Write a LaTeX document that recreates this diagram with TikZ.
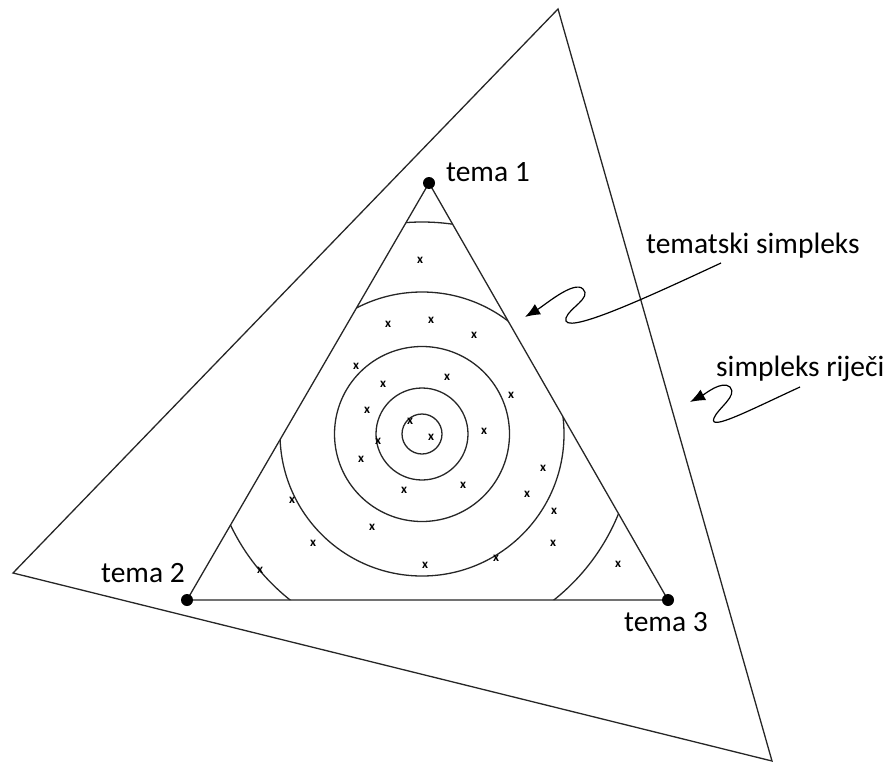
\documentclass[tikz,border=0pt]{standalone}
\usepackage{fontspec}
\setmainfont{Carlito}
\usetikzlibrary{arrows.meta}

\begin{document}
\begin{tikzpicture}[
    x=1pt, y=-1pt,
    edge/.style={line width=1.3pt, black!85},
    vertex/.style={circle, fill=black, minimum size=12pt, inner sep=0pt},
    tag/.style={font=\fontsize{29.5}{29.5}\selectfont, inner sep=0pt, anchor=base west},
    xmark/.style={font=\fontsize{13}{13}\selectfont\bfseries, inner sep=0pt},
    pointer/.style={-{Latex[length=15pt, width=12pt]}, line width=1.2pt}
]
    \useasboundingbox (0,0) rectangle (890,762);

    % --- Simpleks rijeci ---
    \coordinate (o1) at (558,9);
    \coordinate (o2) at (13,573);
    \coordinate (o3) at (772,761);
    \draw[edge] (o1) -- (o2) -- (o3) -- cycle;

    % --- Tematski simpleks ---
    \coordinate (v1) at (429,183);
    \coordinate (v2) at (187,600);
    \coordinate (v3) at (668,600);
    \draw[edge] (v1) -- (v2) -- (v3) -- cycle;

    % Circles
    \coordinate (c) at (422,434);
    \draw[edge] (c) circle[radius=20pt];
    \draw[edge] (c) circle[radius=46pt];
    \draw[edge] (c) circle[radius=87.5pt];
    \begin{scope}
        \clip (v1) -- (v2) -- (v3) -- cycle;
        \draw[edge] (c) circle[radius=142pt];
        \draw[edge] (c) circle[radius=212pt];
    \end{scope}

    % Vertices
    \node[vertex] (t1) at (v1) {};
    \node[vertex] (t2) at (v2) {};
    \node[vertex] (t3) at (v3) {};
    \node[tag] (l1) at (446,181) {tema 1};
    \node[tag] (l2) at (101,582) {tema 2};
    \node[tag] (l3) at (624,631) {tema 3};

    % Points
    \foreach \p [count=\i] in {(420,260), (388,324), (431,320), (474,335),
        (356,366), (383,384), (447,377), (511,395), (367,410), (410,421),
        (431,437), (378,441), (484,431), (361,459), (543,468), (404,490),
        (463,485), (527,494), (292,500), (554,511), (372,527), (313,543),
        (553,543), (496,558), (425,565), (260,570), (618,564)}
        \node[xmark] (x\i) at \p {x};

    % --- Labels ---
    \node[tag] (tematski) at (646,253) {tematski simpleks};
    \node[tag] (rijeci) at (716,376) {simpleks riječi};

    \coordinate (p1) at (721,263);
    \coordinate (q1) at (525,317);
    \draw[pointer] (p1) .. controls (650,296) and (560,338) .. (566,318)
        .. controls (569,308) and (592,298) .. (583,289)
        .. controls (574,280) and (545,305) .. (q1);

    \coordinate (p2) at (800,387);
    \coordinate (q2) at (690,402);
    \draw[pointer] (p2) .. controls (750,410) and (708,432) .. (714,418)
        .. controls (718,408) and (738,396) .. (730,387)
        .. controls (722,380) and (705,394) .. (q2);

\end{tikzpicture}
\end{document}
